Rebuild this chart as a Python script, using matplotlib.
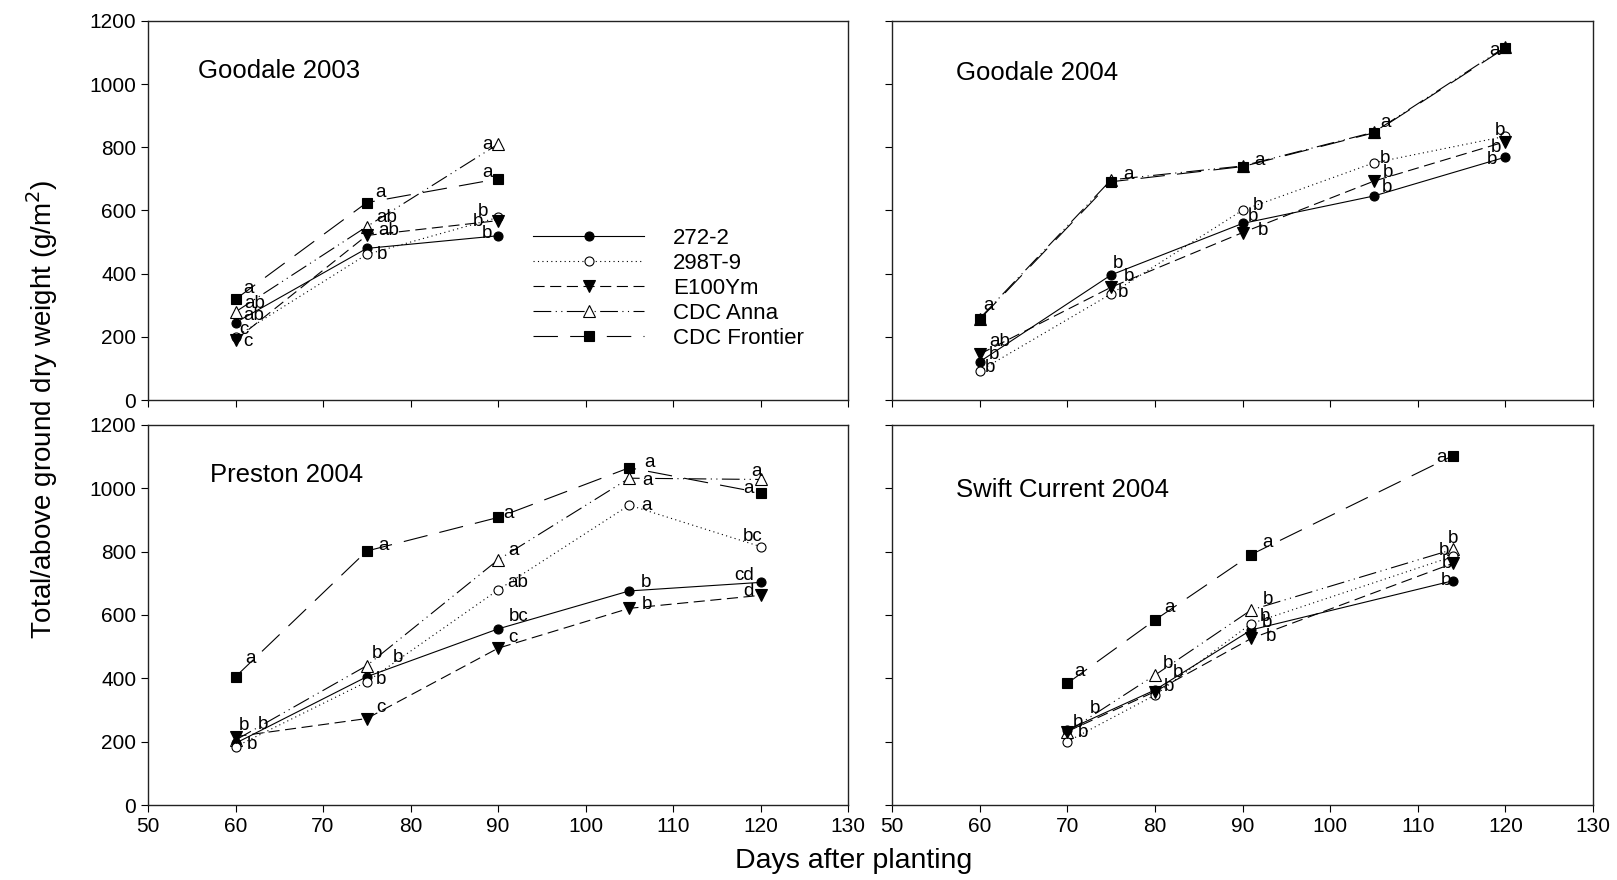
import matplotlib
matplotlib.use("Agg")
import matplotlib.pyplot as plt

plt.rcParams['font.family'] = ['Liberation Sans', 'DejaVu Sans']

# ------------------------------
# Datos
# ------------------------------
genotypes = ["272-2", "298T-9", "E100Ym", "CDC Anna", "CDC Frontier"]

# Goodale 2003
g03_days = [60, 75, 90]
g03_272 = [245, 480, 520]
g03_298 = [200, 461, 578]
g03_e100 = [190, 521, 568]
g03_anna = [279, 549, 810]
g03_front = [319, 625, 700]
g03_letters = [["ab", "", "b"], ["c", "b", "b"], ["c", "ab", "b"],
               ["ab", "ab", "a"], ["a", "a", "a"]]

# Goodale 2004
g04_days = [60, 75, 90, 105, 120]
g04_272 = [121, 396, 559, 646, 769]
g04_298 = [92, 336, 601, 751, 835]
g04_e100 = [145, 357, 530, 693, 818]
g04_anna = [258, 697, 741, 848, 1118]
g04_front = [255, 691, 739, 846, 1115]
g04_letters = [["b", "b", "b", "b", "b"], ["b", "b", "b", "b", "b"],
               ["ab", "b", "b", "b", "b"], ["", "", "", "", ""],
               ["a", "a", "a", "a", "a"]]

# Preston 2004
pr_days = [60, 75, 90, 105, 120]
pr_272 = [195, 405, 556, 676, 703]
pr_298 = [184, 389, 679, 947, 816]
pr_e100 = [216, 273, 495, 621, 662]
pr_anna = [205, 440, 774, 1032, 1028]
pr_front = [405, 802, 908, 1065, 986]
pr_letters = [["", "b", "bc", "b", "cd"], ["b", "b", "ab", "a", "bc"],
              ["b", "c", "c", "b", "d"], ["b", "b", "a", "a", "a"],
              ["a", "a", "a", "a", "a"]]

# Swift Current 2004
sc_days = [70, 80, 91, 114]
sc_272 = [237, 363, 553, 708]
sc_298 = [200, 347, 573, 785]
sc_e100 = [232, 358, 526, 763]
sc_anna = [231, 410, 616, 807]
sc_front = [384, 584, 791, 1103]
sc_letters = [["b", "b", "b", "b"], ["b", "b", "b", "b"],
              ["", "", "b", "b"], ["b", "b", "b", "b"],
              ["a", "a", "a", "a"]]

# desplazamiento de las letras (pixeles, y hacia abajo como en la imagen)
g03_off = [[(18, -7), (0, 0), (-11, -2)],
           [(8, -7), (15, 0), (-20, 4)],
           [(12, 2), (22, -5), (-15, -9)],
           [(19, -8), (20, -9), (-11, 0)],
           [(13, -11), (14, -10), (-11, -6)]]
g04_off = [[(14, -7), (7, -11), (10, -7), (13, -8), (-13, 2)],
           [(10, -3), (12, -1), (15, -5), (11, -4), (-5, -6)],
           [(20, -13), (18, -11), (20, -2), (14, -9), (-9, 6)],
           [(0, 0)] * 5,
           [(9, -14), (17, -7), (17, -6), (12, -10), (-11, 3)]]
pr_off = [[(0, 0), (14, 3), (21, -12), (17, -8), (-16, -7)],
          [(16, -2), (31, -24), (20, -7), (17, 0), (-8, -10)],
          [(27, -12), (14, -11), (15, -11), (18, -4), (-12, -4)],
          [(8, -15), (10, -12), (15, -9), (18, 2), (-4, -8)],
          [(15, -18), (17, -6), (10, -4), (20, -5), (-12, -4)]]
sc_off = [[(11, -7), (23, -18), (16, -7), (-7, 0)],
          [(16, -9), (14, -9), (14, -7), (-9, -6)],
          [(0, 0), (0, 0), (20, -2), (-6, 0)],
          [(28, -23), (13, -12), (17, -10), (0, -11)],
          [(12, -12), (15, -13), (16, -12), (-11, 2)]]

styles = [
    dict(linestyle='-', marker='o', mfc='black', ms=6.5),
    dict(linestyle=(0, (1, 3)), marker='o', mfc='white', ms=6.5),
    dict(linestyle=(0, (10, 5)), marker='v', mfc='black', ms=8),
    dict(linestyle=(0, (16, 4, 1, 4, 1, 4)), marker='^', mfc='white', ms=8),
    dict(linestyle=(0, (22, 11)), marker='s', mfc='black', ms=7.5),
]

panels = [
    ("Goodale 2003", g03_days, [g03_272, g03_298, g03_e100, g03_anna, g03_front], g03_letters, g03_off, (55.7, 1042)),
    ("Goodale 2004", g04_days, [g04_272, g04_298, g04_e100, g04_anna, g04_front], g04_letters, g04_off, (57.3, 1034)),
    ("Preston 2004", pr_days, [pr_272, pr_298, pr_e100, pr_anna, pr_front], pr_letters, pr_off, (57.1, 1042)),
    ("Swift Current 2004", sc_days, [sc_272, sc_298, sc_e100, sc_anna, sc_front], sc_letters, sc_off, (57.3, 995)),
]

fig = plt.figure(figsize=(16.17, 8.80), dpi=100)
W, H = 1617.0, 880.0
boxes = [(148, 21, 848, 400), (892, 21, 1593, 400),
         (148, 425, 848, 805), (892, 425, 1593, 805)]

axes = []
for i, (x0, y0, x1, y1) in enumerate(boxes):
    ax = fig.add_axes([x0 / W, 1 - y1 / H, (x1 - x0) / W, (y1 - y0) / H])
    axes.append(ax)
    title, days, series, letters, offs, tpos = panels[i]
    # orden: Anna antes de Frontier para que el cuadrado tape el triangulo
    for j in [3, 0, 1, 2, 4]:
        ax.plot(days, series[j], color='black', lw=0.8, mec='black', mew=0.8,
                label=genotypes[j], **styles[j])
        for k, txt in enumerate(letters[j]):
            if txt:
                dx, dy = offs[j][k]
                ax.annotate(txt, (days[k], series[j][k]), xytext=(dx, -dy),
                            textcoords='offset pixels', ha='center', va='center',
                            fontsize=13.5)
    ax.text(tpos[0], tpos[1], title, fontsize=18.5, ha='left', va='center')
    ax.set_xlim(50, 130)
    ax.set_ylim(0, 1200)
    ax.set_xticks(range(50, 131, 10))
    ax.set_yticks(range(0, 1201, 200))
    ax.tick_params(direction='out', length=5, width=0.8, labelsize=15)
    if i < 2:
        ax.tick_params(labelbottom=False)
    if i % 2 == 1:
        ax.tick_params(labelleft=False)
    for sp in ax.spines.values():
        sp.set_linewidth(1.0)
        sp.set_color('#222222')

# leyenda en el primer panel
h, l = axes[0].get_legend_handles_labels()
order = [l.index(g) for g in genotypes]
axes[0].legend([h[o] for o in order], [l[o] for o in order], loc='upper left',
               bbox_to_anchor=(533 / W, 1 - 228 / H), bbox_transform=fig.transFigure,
               frameon=False, borderpad=0, borderaxespad=0, handlelength=5.0,
               handletextpad=1.3, labelspacing=0.18, fontsize=16)

fig.text(0.026, 0.535, "Total/above ground dry weight (g/m$^2$)", rotation=90,
         ha='center', va='center', fontsize=20)
fig.text(0.528, 0.022, "Days after planting", ha='center', va='center', fontsize=20.5)

fig.savefig("out.png", dpi=100)
